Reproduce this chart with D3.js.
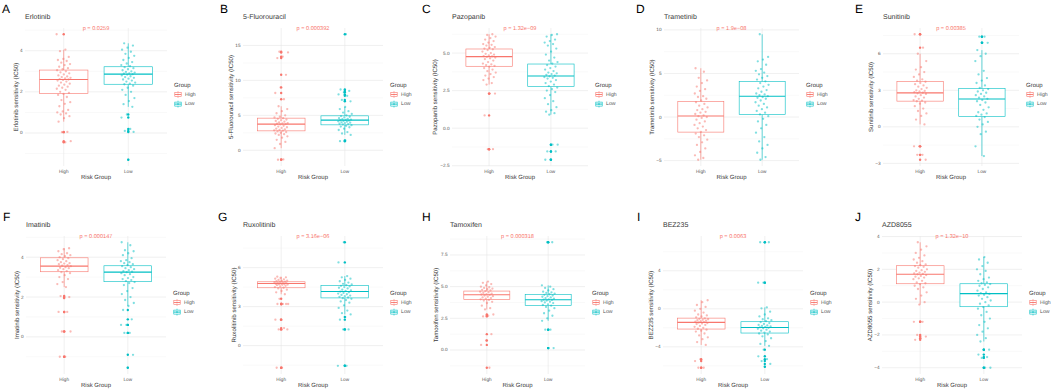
<!DOCTYPE html>
<html>
<head>
<meta charset="utf-8">
<script src="https://cdn.jsdelivr.net/npm/d3@7"></script>
<style>
body { margin: 0; background: #fff; }
svg { display: block; font-family: "Liberation Sans", Arial, sans-serif; text-rendering: geometricPrecision; }
</style>
</head>
<body>
<div id="chart"></div>
<script>
// ---- data ----
const drugs = ["Erlotinib", "5-Fluorouracil", "Pazopanib", "Trametinib", "Sunitinib",
               "Imatinib", "Ruxolitinib", "Tamoxifen", "BEZ235", "AZD8055"];
const panelLetters = ["A", "B", "C", "D", "E", "F", "G", "H", "I", "J"];
const pLabels = ["p = 0.0259", "p = 0.000392", "p = 1.32e\u221209", "p = 1.9e\u221208", "p = 0.00385",
                 "p = 0.000147", "p = 3.16e\u221206", "p = 0.000318", "p = 0.0063", "p = 1.32e\u221210"];
const groups = ["High", "Low"];
const yTicks = [[0, 2, 4], [0, 5, 10, 15], [-2.5, 0, 2.5, 5], [-5, 0, 5, 10], [-3, 0, 3, 6],
                [0, 2, 4], [0, 3, 6], [0, 2.5, 5, 7.5], [-4, 0, 4], [-4, -2, 0, 2, 4]];

// box stats: [lower whisker, Q1, median, Q3, upper whisker]
const highBox = [
  [0.55, 1.92, 2.6, 3.06, 4.05], [0.3, 2.78, 3.74, 4.6, 6.3], [2.9, 4.12, 4.76, 5.27, 6.25],
  [-4.9, -1.73, 0.12, 1.77, 5.6], [0.2, 2.11, 2.79, 3.71, 6.0], [2.5, 3.27, 3.55, 3.97, 4.45],
  [3.95, 4.45, 4.78, 4.91, 5.3], [3.2, 3.99, 4.36, 4.65, 5.4], [-3.8, -2.13, -1.43, -0.98, 0.9],
  [-0.15, 1.12, 1.7, 2.22, 3.65]
];
const lowBox = [
  [1.27, 2.37, 2.86, 3.22, 4.36], [2.2, 3.64, 4.31, 4.93, 6.2], [0.9, 2.77, 3.47, 4.27, 6.25],
  [-4.9, 0.27, 2.38, 4.08, 9.5], [-2.4, 0.84, 2.28, 3.14, 6.3], [1.55, 2.77, 3.25, 3.57, 4.75],
  [2.4, 3.67, 4.16, 4.63, 5.35], [2.3, 3.51, 3.96, 4.39, 5.1], [-3.9, -2.55, -1.96, -1.36, 0.15],
  [-2.4, -0.28, 0.52, 1.12, 2.75]
];

const highPoints = [
  [4.8, 4.05, 3.98, 3.7, 3.6, 3.55, 3.5, 3.42, 3.35, 3.3, 3.22, 3.15, 3.1, 3.05, 3.0, 2.95, 2.9, 2.85, 2.8, 2.75,
   2.72, 2.68, 2.65, 2.62, 2.6, 2.58, 2.55, 2.5, 2.45, 2.4, 2.35, 2.3, 2.25, 2.2, 2.15, 2.1, 2.0, 1.95, 1.9, 1.85,
   1.75, 1.6, 1.5, 1.42, 1.3, 1.12, 1.05, 1.0, 0.95, 0.9, 0.82, 0.72, 0.55, 0.05, 0.04, -0.4, -0.45],
  [14.1, 14.0, 13.4, 13.2, 10.8, 9.0, 8.2, 7.3, 6.3, 5.9, 5.6, 5.3, 5.0, 4.8, 4.7, 4.6, 4.5, 4.4, 4.3, 4.2,
   4.1, 4.0, 3.9, 3.85, 3.8, 3.75, 3.7, 3.6, 3.5, 3.4, 3.3, 3.2, 3.1, 3.0, 2.9, 2.85, 2.8, 2.7, 2.6, 2.5,
   2.4, 2.3, 2.2, 2.0, 1.8, 1.5, 1.2, 0.9, 0.3, -1.3, -1.35],
  [6.25, 6.2, 6.1, 6.0, 5.9, 5.8, 5.7, 5.6, 5.55, 5.5, 5.4, 5.35, 5.3, 5.25, 5.2, 5.1, 5.0, 4.95, 4.9, 4.85,
   4.8, 4.78, 4.75, 4.7, 4.65, 4.6, 4.5, 4.4, 4.3, 4.25, 4.2, 4.15, 4.1, 4.0, 3.9, 3.8, 3.7, 3.6, 3.5, 3.4,
   3.3, 3.2, 3.0, 2.9, 2.3, 2.3, 0.85, -1.4, -1.4],
  [5.6, 5.2, 4.5, 4.2, 3.9, 3.5, 3.2, 3.0, 2.7, 2.4, 2.3, 2.1, 1.9, 1.7, 1.5, 1.3, 1.1, 0.9, 0.8, 0.6,
   0.5, 0.35, 0.2, 0.1, 0.0, -0.1, -0.3, -0.5, -0.7, -0.9, -1.1, -1.3, -1.5, -1.7, -1.9, -2.1, -2.3, -2.6, -2.9, -3.2,
   -3.6, -4.0, -4.4, -4.7, -4.9],
  [7.6, 7.6, 6.5, 6.0, 5.4, 4.9, 4.7, 4.5, 4.3, 4.1, 3.9, 3.8, 3.7, 3.6, 3.5, 3.4, 3.3, 3.2, 3.1, 3.0,
   2.95, 2.9, 2.85, 2.8, 2.75, 2.7, 2.6, 2.5, 2.4, 2.3, 2.2, 2.15, 2.1, 2.0, 1.9, 1.7, 1.5, 1.3, 1.1, 0.9,
   0.6, 0.2, -1.6, -1.6, -2.3, -2.3, -2.7],
  [4.45, 4.4, 4.3, 4.2, 4.15, 4.1, 4.05, 4.0, 3.95, 3.9, 3.85, 3.8, 3.75, 3.7, 3.68, 3.65, 3.6, 3.58, 3.55, 3.5,
   3.47, 3.45, 3.4, 3.35, 3.3, 3.25, 3.2, 3.1, 3.0, 2.9, 2.75, 2.65, 2.5, 2.05, 2.0, 1.95, 1.25, 1.25, 0.27, 0.27,
   -1.0, -1.0],
  [5.3, 5.25, 5.2, 5.15, 5.1, 5.05, 5.0, 4.98, 4.95, 4.92, 4.9, 4.88, 4.85, 4.82, 4.8, 4.78, 4.76, 4.74, 4.72, 4.7,
   4.68, 4.65, 4.6, 4.55, 4.5, 4.45, 4.4, 4.3, 4.2, 4.1, 3.95, 3.6, 3.2, 3.2, 3.2, 3.2, 2.0, 2.0, 1.35, 1.25,
   1.25, -1.7, -1.7],
  [5.4, 5.3, 5.2, 5.1, 5.0, 4.95, 4.9, 4.85, 4.8, 4.75, 4.7, 4.65, 4.6, 4.55, 4.5, 4.45, 4.4, 4.38, 4.35, 4.3,
   4.25, 4.2, 4.15, 4.1, 4.05, 4.0, 3.95, 3.9, 3.8, 3.7, 3.5, 3.3, 3.2, 2.8, 2.7, 2.65, 1.25, 0.75, 0.4, -1.4],
  [0.9, 0.7, 0.4, 0.2, 0.0, -0.2, -0.4, -0.6, -0.7, -0.8, -0.9, -1.0, -1.05, -1.1, -1.15, -1.2, -1.25, -1.3, -1.35, -1.4,
   -1.45, -1.5, -1.55, -1.6, -1.7, -1.8, -1.9, -2.0, -2.1, -2.2, -2.3, -2.4, -2.6, -2.8, -3.0, -3.2, -3.5, -3.8, -5.3, -5.5,
   -6.2, -6.2],
  [3.65, 3.4, 3.2, 3.0, 2.85, 2.7, 2.6, 2.5, 2.4, 2.3, 2.25, 2.2, 2.15, 2.1, 2.0, 1.95, 1.9, 1.85, 1.8, 1.75,
   1.72, 1.7, 1.65, 1.6, 1.55, 1.5, 1.45, 1.4, 1.3, 1.2, 1.15, 1.1, 1.0, 0.9, 0.8, 0.6, 0.4, 0.2, 0.0, -0.15,
   -1.2, -1.2, -2.0, -2.1, -2.2, -2.3]
];

const lowPoints = [
  [4.36, 4.25, 4.15, 4.05, 3.95, 3.85, 3.75, 3.65, 3.55, 3.45, 3.38, 3.3, 3.25, 3.2, 3.15, 3.1, 3.05, 3.0, 2.97, 2.94,
   2.9, 2.88, 2.86, 2.84, 2.8, 2.76, 2.72, 2.68, 2.64, 2.6, 2.55, 2.5, 2.45, 2.4, 2.37, 2.3, 2.2, 2.1, 2.0, 1.85,
   1.7, 1.55, 1.4, 1.27, 0.9, 0.75, 0.2, 0.1, 0.05, -1.3],
  [16.6, 8.7, 8.5, 8.3, 8.0, 7.8, 7.2, 7.0, 6.2, 5.9, 5.6, 5.4, 5.2, 5.0, 4.9, 4.8, 4.7, 4.6, 4.5, 4.45,
   4.4, 4.35, 4.3, 4.25, 4.2, 4.15, 4.1, 4.0, 3.95, 3.9, 3.8, 3.75, 3.7, 3.6, 3.5, 3.4, 3.3, 3.1, 2.9, 2.6,
   2.4, 2.2, 1.4, 1.3],
  [6.25, 6.2, 6.1, 5.9, 5.8, 5.7, 5.6, 5.5, 5.3, 5.1, 4.9, 4.7, 4.5, 4.4, 4.3, 4.2, 4.1, 4.0, 3.9, 3.8,
   3.7, 3.65, 3.6, 3.55, 3.5, 3.45, 3.4, 3.35, 3.3, 3.2, 3.1, 3.0, 2.9, 2.8, 2.7, 2.6, 2.5, 2.4, 2.2, 2.0,
   1.8, 1.6, 1.4, 1.2, 1.1, 1.0, 0.9, -1.1, -1.1, -1.55, -1.55, -2.1, -2.1],
  [9.5, 6.9, 6.6, 6.4, 6.0, 5.5, 5.3, 5.1, 4.9, 4.7, 4.5, 4.3, 4.1, 3.9, 3.7, 3.5, 3.3, 3.1, 2.9, 2.7,
   2.6, 2.5, 2.4, 2.3, 2.2, 2.1, 1.9, 1.7, 1.5, 1.3, 1.1, 0.9, 0.7, 0.5, 0.3, 0.1, -0.2, -0.5, -0.9, -1.3,
   -1.8, -2.3, -2.8, -3.2, -3.6, -4.1, -4.6, -4.9],
  [7.4, 7.4, 6.9, 6.9, 6.3, 6.0, 5.8, 5.4, 4.6, 4.3, 4.0, 3.8, 3.6, 3.4, 3.2, 3.1, 3.0, 2.9, 2.8, 2.7,
   2.6, 2.5, 2.4, 2.3, 2.2, 2.1, 2.0, 1.8, 1.6, 1.4, 1.2, 1.1, 1.0, 0.9, 0.8, 0.6, 0.4, 0.2, 0.0, -0.4,
   -0.6, -1.6, -2.4],
  [4.75, 4.6, 4.35, 4.3, 4.2, 4.1, 3.95, 3.85, 3.8, 3.75, 3.7, 3.65, 3.6, 3.55, 3.5, 3.45, 3.4, 3.35, 3.3, 3.27,
   3.25, 3.2, 3.15, 3.1, 3.0, 2.95, 2.9, 2.85, 2.8, 2.75, 2.7, 2.6, 2.45, 2.3, 2.15, 2.0, 1.85, 1.7, 1.55, 1.35,
   0.88, 0.6, 0.6, 0.2, 0.2, -0.9, -1.55],
  [7.95, 6.4, 5.35, 5.25, 5.15, 5.05, 4.95, 4.85, 4.75, 4.7, 4.65, 4.6, 4.55, 4.5, 4.45, 4.4, 4.3, 4.25, 4.2, 4.15,
   4.1, 4.05, 4.0, 3.95, 3.9, 3.85, 3.8, 3.75, 3.7, 3.65, 3.6, 3.5, 3.4, 3.3, 3.1, 2.9, 2.7, 2.5, 2.4, 2.2,
   2.0, 1.25, 1.25, -1.55, -1.55],
  [8.5, 8.5, 5.1, 5.0, 4.9, 4.8, 4.7, 4.6, 4.55, 4.5, 4.45, 4.4, 4.35, 4.3, 4.25, 4.2, 4.15, 4.1, 4.05, 4.0,
   3.97, 3.95, 3.9, 3.85, 3.8, 3.75, 3.7, 3.6, 3.55, 3.5, 3.4, 3.3, 3.1, 2.9, 2.7, 2.5, 2.3, 1.6, 1.6, 0.15,
   0.15],
  [7.0, 7.0, 2.75, 2.75, 0.15, 0.05, -0.3, -0.6, -0.8, -1.0, -1.1, -1.2, -1.3, -1.4, -1.5, -1.6, -1.7, -1.75, -1.8, -1.85,
   -1.9, -1.95, -2.0, -2.05, -2.1, -2.2, -2.3, -2.4, -2.5, -2.6, -2.7, -2.9, -3.1, -3.4, -3.7, -3.9, -4.3, -5.0, -5.3, -5.5,
   -5.8, -6.1],
  [2.75, 2.6, 2.4, 2.2, 2.0, 1.9, 1.7, 1.5, 1.4, 1.3, 1.2, 1.15, 1.1, 1.05, 1.0, 0.9, 0.8, 0.7, 0.6, 0.55,
   0.5, 0.45, 0.4, 0.3, 0.2, 0.1, 0.0, -0.1, -0.2, -0.3, -0.4, -0.6, -0.8, -1.0, -1.2, -1.4, -1.6, -1.8, -2.0, -2.2,
   -2.4, -2.9, -2.9, -3.2, -3.35, -3.4, -4.0, -4.0]
];

// ---- layout ----
const width = 1052, height = 390;
const colors = { High: "#F8766D", Low: "#00BFC4" };
const panelX = [0, 210, 420, 630, 840, 0, 210, 420, 630, 840];
const rowY = [0, 0, 0, 0, 0, 208, 208, 208, 208, 208];
const plotL = [25, 33, 32, 34, 43, 26, 33, 30, 33, 42];
const plotR = [167, 173, 168, 169, 179, 166, 173, 165, 173, 182];
const letterX = [2, 10, 2, 6, 15, 3, 8, 2, 7, 15];
const plotTop = 28, plotBottom = 166;

const svg = d3.select("#chart")
  .append("svg")
  .attr("width", width)
  .attr("height", height)
  .attr("viewBox", [0, 0, width, height]);

svg.append("rect").attr("width", width).attr("height", height).attr("fill", "#fff");

drugs.forEach((drug, k) => {
  const g = svg.append("g").attr("transform", `translate(${panelX[k]},${rowY[k]})`);
  const L = plotL[k], R = plotR[k];
  const all = highPoints[k].concat(lowPoints[k]);
  const [mn, mx] = d3.extent(all);
  const pad = (mx - mn) * 0.05;

  const y = d3.scaleLinear().domain([mn - pad, mx + pad]).range([plotBottom, plotTop]);
  const x = d3.scalePoint().domain(groups).range([L, R]).padding(0.6);
  const step = x.step();

  const ticks = yTicks[k];
  const fmt = ticks.some(t => !Number.isInteger(t)) ? d3.format(".1f") : d3.format("d");

  // minor grid
  const minor = [];
  const tstep = ticks[1] - ticks[0];
  for (let t = ticks[0] - tstep / 2; t <= mx + pad; t += tstep) {
    if (t >= mn - pad) minor.push(t);
  }
  g.append("g").selectAll("line").data(minor).join("line")
    .attr("x1", L).attr("x2", R)
    .attr("y1", d => y(d)).attr("y2", d => y(d))
    .attr("stroke", "#f2f2f2").attr("stroke-width", 0.45);

  // major grid
  g.append("g").selectAll("line").data(ticks).join("line")
    .attr("x1", L).attr("x2", R)
    .attr("y1", d => y(d)).attr("y2", d => y(d))
    .attr("stroke", "#e6e6e6").attr("stroke-width", 0.6);
  g.append("g").selectAll("line").data(groups).join("line")
    .attr("x1", d => x(d)).attr("x2", d => x(d))
    .attr("y1", plotTop).attr("y2", plotBottom)
    .attr("stroke", "#e6e6e6").attr("stroke-width", 0.6);

  // y tick labels
  g.append("g").selectAll("text").data(ticks).join("text")
    .attr("x", L - 2.5).attr("y", d => y(d))
    .attr("text-anchor", "end").attr("dominant-baseline", "central")
    .attr("font-size", 4.7).attr("fill", "#555")
    .text(d => fmt(d));

  // x tick labels
  g.append("g").selectAll("text").data(groups).join("text")
    .attr("x", d => x(d)).attr("y", 172.8)
    .attr("text-anchor", "middle").attr("font-size", 4.7).attr("fill", "#555")
    .text(d => d);

  // axis titles
  g.append("text")
    .attr("x", (L + R) / 2).attr("y", 179.2)
    .attr("text-anchor", "middle").attr("font-size", 6).attr("fill", "#383838")
    .text("Risk Group");
  const tw = d3.max(ticks, t => fmt(t).length) * 2.6;
  g.append("text")
    .attr("transform", `translate(${L - 4.5 - tw},${(plotTop + plotBottom) / 2}) rotate(-90)`)
    .attr("text-anchor", "middle").attr("font-size", 6.1).attr("fill", "#383838")
    .text(`${drug} sensitivity (IC50)`);

  // panel title and letter
  g.append("text").attr("x", L).attr("y", 19.3)
    .attr("font-size", 7).attr("fill", "#383838").text(drug);
  g.append("text").attr("x", letterX[k]).attr("y", 12.6)
    .attr("font-size", 12).attr("fill", "#000").text(panelLetters[k]);

  // boxes
  const boxes = [highBox[k], lowBox[k]];
  const pts = [highPoints[k], lowPoints[k]];
  groups.forEach((grp, j) => {
    const [lo, q1, med, q3, hi] = boxes[j];
    const cx = x(grp), bw = step * 0.75, col = colors[grp];
    const bg = g.append("g");
    bg.append("line").attr("x1", cx).attr("x2", cx).attr("y1", y(q3)).attr("y2", y(hi))
      .attr("stroke", col).attr("stroke-width", 0.6);
    bg.append("line").attr("x1", cx).attr("x2", cx).attr("y1", y(q1)).attr("y2", y(lo))
      .attr("stroke", col).attr("stroke-width", 0.6);
    bg.append("rect").attr("x", cx - bw / 2).attr("width", bw)
      .attr("y", y(q3)).attr("height", y(q1) - y(q3))
      .attr("fill", "#fff").attr("stroke", col).attr("stroke-width", 0.6);
    bg.append("line").attr("x1", cx - bw / 2).attr("x2", cx + bw / 2)
      .attr("y1", y(med)).attr("y2", y(med))
      .attr("stroke", col).attr("stroke-width", 1.1);

    // outliers from the boxplot layer
    bg.selectAll("circle").data(pts[j].filter(v => v < lo - 1e-9 || v > hi + 1e-9)).join("circle")
      .attr("cx", cx).attr("cy", d => y(d)).attr("r", 1.2).attr("fill", col);
  });

  // jittered points
  groups.forEach((grp, j) => {
    const cx = x(grp), col = colors[grp];
    g.append("g").selectAll("circle").data(pts[j]).join("circle")
      .attr("cx", (d, i) => cx + (((i * 0.6180339887 + k * 0.37 + j * 0.21) % 1) - 0.5) * step * 0.22)
      .attr("cy", d => y(d)).attr("r", 1.15)
      .attr("fill", col).attr("fill-opacity", 0.5);
  });

  // p value
  g.append("text").attr("x", (x("High") + x("Low")) / 2).attr("y", 29.6)
    .attr("text-anchor", "middle").attr("font-size", 5.6).attr("fill", "#F8766D")
    .text(pLabels[k]);

  // legend
  const lx = R + 7;
  g.append("text").attr("x", lx).attr("y", 87.2).attr("font-size", 6).attr("fill", "#383838").text("Group");
  groups.forEach((grp, j) => {
    const ky = 90.5 + j * 9.6, col = colors[grp];
    const kg = g.append("g").attr("transform", `translate(${lx},${ky})`);
    kg.append("line").attr("x1", 4).attr("x2", 4).attr("y1", 0.6).attr("y2", 7.4)
      .attr("stroke", col).attr("stroke-width", 0.6);
    kg.append("rect").attr("x", 0.8).attr("y", 2).attr("width", 6.4).attr("height", 4)
      .attr("fill", "#fff").attr("stroke", col).attr("stroke-width", 0.6);
    kg.append("line").attr("x1", 0.8).attr("x2", 7.2).attr("y1", 4).attr("y2", 4)
      .attr("stroke", col).attr("stroke-width", 0.9);
    kg.append("circle").attr("cx", 4).attr("cy", 4).attr("r", 1.1)
      .attr("fill", col).attr("fill-opacity", 0.5);
    g.append("text").attr("x", lx + 11).attr("y", ky + 4)
      .attr("dominant-baseline", "central").attr("font-size", 5.2).attr("fill", "#555")
      .text(grp);
  });
});
</script>
</body>
</html>
